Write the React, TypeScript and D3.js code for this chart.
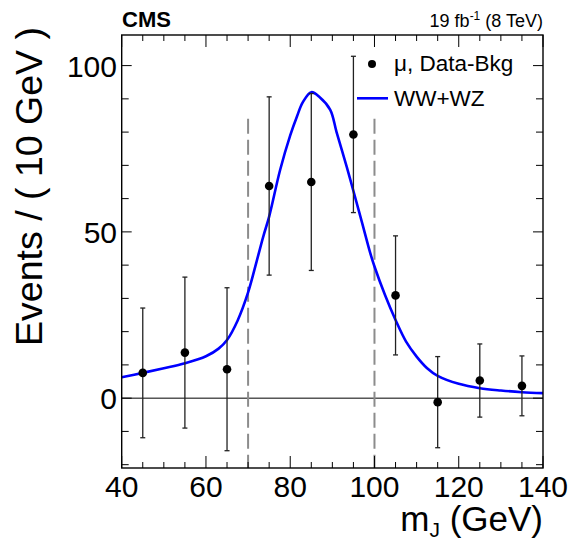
import React from "react";
import * as d3 from "d3";

// Binned data (Data - Bkg), bin centres in GeV, values and symmetric errors
const binCenters = [45, 55, 65, 75, 85, 95, 105, 115, 125, 135];
const dataValues = [7.6, 13.7, 8.7, 63.8, 65.0, 79.3, 30.9, -1.2, 5.3, 3.7];
const dataErrors = [19.5, 22.7, 24.5, 26.8, 26.6, 23.5, 17.9, 13.7, 11.0, 9.0];

// Fitted WW+WZ shape, sampled along mJ
const fitMass = [40, 45, 50, 55, 60, 63, 65, 67.5, 70, 72, 73.6, 75, 77.6, 80, 81.6, 83, 85, 87, 89.5, 91, 93.4, 95, 97, 99, 100, 102.5, 105, 107.5, 110, 112.5, 115, 120, 125, 130, 135, 140];
const fitEvents = [6.3, 7.6, 9.0, 10.5, 12.6, 14.9, 17.5, 23.3, 31.8, 41, 48.6, 54.6, 68.6, 79, 84.7, 89, 92.0, 90.5, 86.7, 80, 69.6, 62.3, 53, 43.6, 39.6, 31, 23.5, 17, 12.5, 9, 6.7, 4.3, 3.0, 2.3, 1.8, 1.5];

// Signal window boundaries
const windowEdges = [70, 100];
const windowTop = 84;

const xMajorTicks = [40, 60, 80, 100, 120, 140];
const yMajorTicks = [0, 50, 100];

const W = 570;
const H = 540;
const left = 121.7;
const right = 543;
const top = 35;
const bottom = 468;
const font = "'Liberation Sans', Arial, Helvetica, sans-serif";

export default function App() {
  const x = d3.scaleLinear().domain([40, 140]).range([left, right]);
  const y = d3.scaleLinear().domain([-21, 109.2]).range([bottom, top]);

  const xMinor = d3.range(40, 140.001, 5).filter((v) => !xMajorTicks.includes(v));
  const yMinor = d3.range(-20, 109, 10).filter((v) => !yMajorTicks.includes(v));

  const line = d3
    .line<number>()
    .x((_, i) => x(fitMass[i]))
    .y((d) => y(d))
    .curve(d3.curveCatmullRom.alpha(0.5));

  const xMajLen = 12;
  const xMinLen = 6;
  const yMajLen = 10;
  const yMinLen = 7;

  return (
    <svg width={W} height={H} style={{ position: "absolute", left: 0, top: 0, background: "#fff" }}>
      <defs>
        <clipPath id="plot-area">
          <rect x={left} y={top} width={right - left} height={bottom - top} />
        </clipPath>
      </defs>
      <rect x={0} y={0} width={W} height={H} fill="#fff" />

      {/* zero line */}
      <line x1={left} x2={right} y1={y(0)} y2={y(0)} stroke="#000" strokeWidth={1} />

      {/* signal window */}
      {windowEdges.map((m) => (
        <line
          key={m}
          x1={x(m)}
          x2={x(m)}
          y1={y(windowTop)}
          y2={bottom}
          stroke="#8c8c8c"
          strokeWidth={2}
          strokeDasharray="15,6"
        />
      ))}

      {/* fit curve */}
      <path d={line(fitEvents) || ""} fill="none" stroke="#0000ff" strokeWidth={2.6} clipPath="url(#plot-area)" />

      {/* data points with error bars */}
      {binCenters.map((m, i) => {
        const cx = x(m);
        const lo = y(dataValues[i] - dataErrors[i]);
        const hi = y(dataValues[i] + dataErrors[i]);
        return (
          <g key={m}>
            <line x1={cx} x2={cx} y1={lo} y2={hi} stroke="#222" strokeWidth={1.3} />
            <line x1={cx - 2.5} x2={cx + 2.5} y1={lo} y2={lo} stroke="#222" strokeWidth={1.3} />
            <line x1={cx - 2.5} x2={cx + 2.5} y1={hi} y2={hi} stroke="#222" strokeWidth={1.3} />
            <circle cx={cx} cy={y(dataValues[i])} r={4.3} fill="#000" />
          </g>
        );
      })}

      {/* ticks on all four sides */}
      <g stroke="#000" strokeWidth={1}>
        {xMajorTicks.map((v) => (
          <g key={"xM" + v}>
            <line x1={x(v)} x2={x(v)} y1={bottom} y2={bottom - xMajLen} />
            <line x1={x(v)} x2={x(v)} y1={top} y2={top + xMajLen} />
          </g>
        ))}
        {xMinor.map((v) => (
          <g key={"xm" + v}>
            <line x1={x(v)} x2={x(v)} y1={bottom} y2={bottom - xMinLen} />
            <line x1={x(v)} x2={x(v)} y1={top} y2={top + xMinLen} />
          </g>
        ))}
        {yMajorTicks.map((v) => (
          <g key={"yM" + v}>
            <line x1={left} x2={left + yMajLen} y1={y(v)} y2={y(v)} />
            <line x1={right} x2={right - yMajLen} y1={y(v)} y2={y(v)} />
          </g>
        ))}
        {yMinor.map((v) => (
          <g key={"ym" + v}>
            <line x1={left} x2={left + yMinLen} y1={y(v)} y2={y(v)} />
            <line x1={right} x2={right - yMinLen} y1={y(v)} y2={y(v)} />
          </g>
        ))}
      </g>

      {/* frame */}
      <rect x={left} y={top} width={right - left} height={bottom - top} fill="none" stroke="#000" strokeWidth={1.4} />

      {/* tick labels */}
      <g fontFamily={font} fontSize={30} fill="#000">
        {xMajorTicks.map((v) => (
          <text key={"xl" + v} x={x(v)} y={497} textAnchor="middle">
            {v}
          </text>
        ))}
        {yMajorTicks.map((v) => (
          <text key={"yl" + v} x={117} y={y(v) + 11} textAnchor="end">
            {v}
          </text>
        ))}
      </g>

      {/* axis titles */}
      <text x={543} y={531} textAnchor="end" fontFamily={font} fontSize={35} fill="#000">
        m<tspan fontSize={21} dy={6}>J</tspan>
        <tspan dy={-6}> (GeV)</tspan>
      </text>
      <text
        transform={`translate(41.5, 27) rotate(-90)`}
        textAnchor="end"
        fontFamily={font}
        fontSize={37.5}
        fill="#000"
      >
        Events / ( 10 GeV )
      </text>

      {/* header */}
      <text x={122} y={26.5} fontFamily={font} fontSize={22} fontWeight="bold" fill="#000">
        CMS
      </text>
      <text x={543} y={27} textAnchor="end" fontFamily={font} fontSize={18} fill="#000">
        19 fb<tspan fontSize={12} dy={-7}>-1</tspan>
        <tspan dy={7}> (8 TeV)</tspan>
      </text>

      {/* legend */}
      <circle cx={372} cy={64} r={4} fill="#000" />
      <text x={394} y={71} fontFamily={font} fontSize={22.5} fill="#000">
        μ, Data-Bkg
      </text>
      <line x1={357} x2={388} y1={98.3} y2={98.3} stroke="#0000ff" strokeWidth={2.6} />
      <text x={394} y={106} fontFamily={font} fontSize={22.5} fill="#000">
        WW+WZ
      </text>
    </svg>
  );
}
